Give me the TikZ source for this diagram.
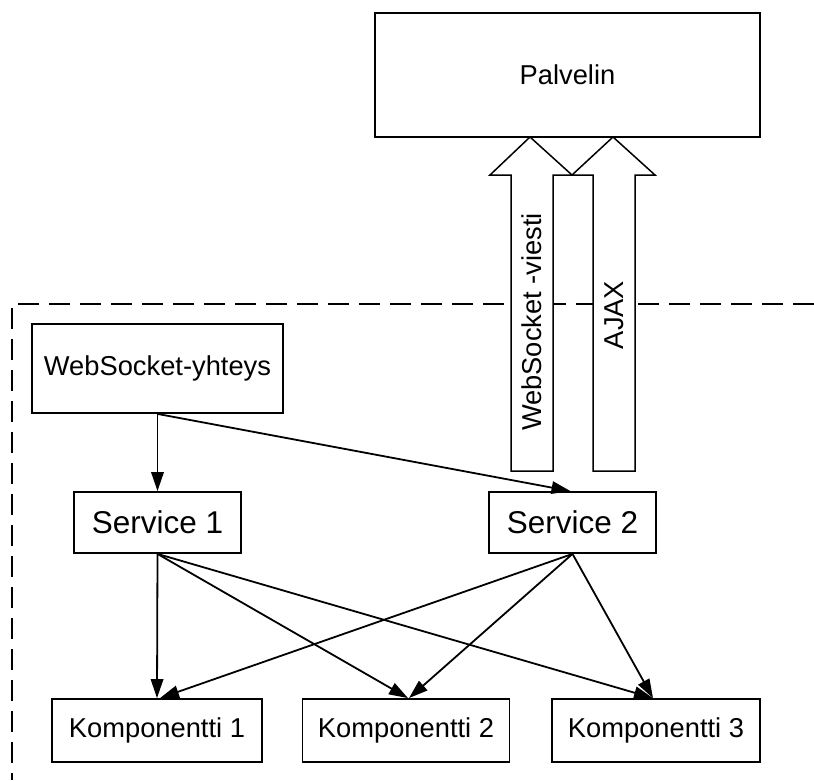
\documentclass[tikz,border=0pt]{standalone}
\usepackage{fontspec}
\setmainfont{Liberation Sans}
\usetikzlibrary{arrows.meta}
\begin{document}
\begin{tikzpicture}[x=1pt,y=-1pt,
  box/.style={draw=black,line width=1.8pt,fill=white,inner sep=0pt,anchor=center,
    font=\fontsize{27.3}{31}\selectfont},
  bigbox/.style={box,font=\fontsize{31.5}{36}\selectfont},
  conn/.style={line width=1.8pt,-{Triangle[length=19pt,width=12.5pt]}},
  blockarrow/.style={draw=black,line width=1.5pt,fill=white,line join=miter},
  lbl/.style={inner sep=0pt,rotate=90,font=\fontsize{27.3}{30}\selectfont}]
\useasboundingbox (0,0) rectangle (814,780);
\fill[white] (0,0) rectangle (814,780);
% dashed frame
\draw[line width=1.5pt,dash pattern=on 21pt off 10pt] (814,304) -- (12,304) -- (12,780);
% server
\node[box,minimum width=385pt,minimum height=124pt] (pal) at (567.5,75) {Palvelin};
% block arrows
\draw[blockarrow] (511,471) -- (511,175) -- (490,175) -- (530,137) -- (572,175) -- (553,175) -- (553,471) -- cycle;
\draw[blockarrow] (593,471) -- (593,175) -- (572,175) -- (613,137) -- (655,175) -- (635,175) -- (635,471) -- cycle;
\node[lbl] (wsv) at (532,322) {WebSocket -viesti};
\node[lbl] (ajax) at (614,315) {AJAX};
% nodes
\node[box,minimum width=251pt,minimum height=89pt] (ws) at (157.5,368.5) {WebSocket-yhteys};
\node[bigbox,minimum width=167pt,minimum height=61pt] (s1) at (157.5,522.5) {Service 1};
\node[bigbox,minimum width=167pt,minimum height=61pt] (s2) at (572.5,522.5) {Service 2};
\node[box,minimum width=210pt,minimum height=63pt] (k1) at (157,730.5) {Komponentti 1};
\node[box,minimum width=207pt,minimum height=63pt] (k2) at (406,730.5) {Komponentti 2};
\node[box,minimum width=208pt,minimum height=63pt] (k3) at (656,730.5) {Komponentti 3};
% connectors
\draw[conn] (ws.south) -- (s1.north);
\draw[conn] (ws.south) -- ([xshift=-2pt]s2.north);
\draw[conn] (s1.south) -- (k1.north);
\draw[conn] (s1.south) -- ([xshift=2pt]k2.north);
\draw[conn] (s1.south) -- ([xshift=-3pt]k3.north);
\draw[conn] (s2.south) -- ([xshift=3pt]k1.north);
\draw[conn] (s2.south) -- ([xshift=3pt]k2.north);
\draw[conn] (s2.south) -- ([xshift=-3pt]k3.north);
\end{tikzpicture}
\end{document}
